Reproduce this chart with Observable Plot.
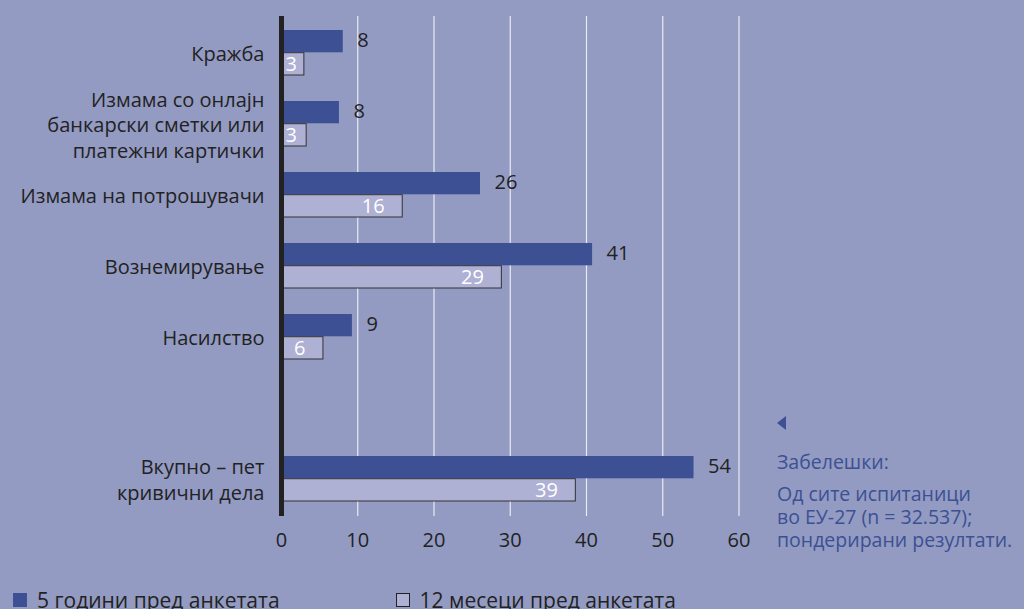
<!DOCTYPE html>
<html>
<head>
<meta charset="utf-8">
<script src="https://cdn.jsdelivr.net/npm/d3@7"></script>
<script src="https://cdn.jsdelivr.net/npm/@observablehq/plot@0.6"></script>
<style>
  html, body { margin: 0; padding: 0; background: #939bc2; width: 1024px; height: 609px; overflow: hidden; font-family: "Open Sans", sans-serif; }
  #wrap { position: relative; width: 1024px; height: 609px; }
  #chart { position: absolute; left: 0; top: 0; }
  .notes { position: absolute; left: 777px; top: 416px; color: #3c5093; font-size: 19.5px; line-height: 23px; white-space: nowrap; }
  .notes .tri { width: 0; height: 0; border-top: 7.5px solid transparent; border-bottom: 7.5px solid transparent; border-right: 9px solid #3c5093; margin-bottom: 20px; }
  .notes .title { margin-bottom: 9px; }
  .legend { position: absolute; top: 586px; left: 13px; font-size: 21px; color: #222; display: flex; white-space: nowrap; }
  .legend .item { display: flex; align-items: center; }
  .legend .sw { width: 14px; height: 14px; margin-right: 10px; box-sizing: border-box; }
</style>
</head>
<body>
<div id="wrap">
  <div id="chart"></div>
  <div class="notes">
    <div class="tri"></div>
    <div class="title">Забелешки:</div>
    <div>Од сите испитаници<br>во ЕУ-27 (n = 32.537);<br>пондерирани резултати.</div>
  </div>
  <div class="legend" id="legend"></div>
</div>
<script>
// ---- data ----
const categories = [
  "Кражба",
  "Измама со онлајн\nбанкарски сметки или\nплатежни картички",
  "Измама на потрошувачи",
  "Вознемирување",
  "Насилство",
  " ",
  "Вкупно – пет\nкривични дела"
];
const fiveYears = [8.1, 7.6, 26.1, 40.8, 9.3, null, 54.1];
const twelveMonths = [3.0, 3.3, 15.9, 28.9, 5.5, null, 38.6];
const seriesNames = ["5 години пред анкетата", "12 месеци пред анкетата"];
const xTicks = [0, 10, 20, 30, 40, 50, 60];
const gridTicks = [10, 20, 30, 40, 50, 60];

const colorDark = "#3c5093";
const colorLight = "#aeb0d4";

const rows = [];
categories.forEach((c, i) => {
  if (fiveYears[i] != null) rows.push({cat: c, series: seriesNames[0], value: fiveYears[i]});
  if (twelveMonths[i] != null) rows.push({cat: c, series: seriesNames[1], value: twelveMonths[i]});
});
const darkRows = rows.filter(d => d.series === seriesNames[0]);
const lightRows = rows.filter(d => d.series === seriesNames[1]);
const labelRows = categories.filter(c => c.trim() !== "").map(c => ({cat: c}));

const chart = Plot.plot({
  width: 1024,
  height: 565,
  marginLeft: 281,
  marginRight: 285.5,
  marginTop: 16,
  marginBottom: 49,
  style: {background: "transparent", fontFamily: "Open Sans, sans-serif", color: "#222"},
  x: {domain: [0, 60], label: null},
  y: {domain: categories, paddingInner: 0.365, paddingOuter: 0.1825, label: null, axis: null},
  marks: [
    Plot.gridX(gridTicks, {stroke: "#ffffff", strokeOpacity: 0.8, strokeWidth: 1.2}),
    Plot.axisX(xTicks, {tickSize: 0, tickPadding: 16, fontSize: 20, fill: "#222", label: null}),
    Plot.barX(darkRows, {x: "value", y: "cat", fill: colorDark, insetBottom: 22.7}),
    Plot.barX(lightRows, {x: "value", y: "cat", fill: colorLight, stroke: "#333", strokeWidth: 1, insetTop: 22.7}),
    Plot.text(darkRows, {x: "value", y: "cat", text: d => String(Math.round(d.value)), textAnchor: "start", dx: 14, dy: -12.5, fontSize: 20, fill: "#222"}),
    Plot.text(lightRows, {x: d => Math.max(d.value, 4.4), y: "cat", text: d => String(Math.round(d.value)), textAnchor: "end", dx: -18, dy: 11.5, fontSize: 20, fill: "#ffffff"}),
    Plot.text(labelRows, {x: 0, y: "cat", text: "cat", textAnchor: "end", dx: -17, fontSize: 20, lineHeight: 1.275, fill: "#222"}),
    Plot.ruleX([0], {stroke: "#222", strokeWidth: 5})
  ]
});
document.getElementById("chart").appendChild(chart);

// legend
const legend = document.getElementById("legend");
const legendColors = [[colorDark, colorDark], [colorLight, "#222"]];
seriesNames.forEach((name, i) => {
  const item = document.createElement("div");
  item.className = "item";
  item.style.marginRight = i === 0 ? "116px" : "0";
  const sw = document.createElement("div");
  sw.className = "sw";
  sw.style.background = legendColors[i][0];
  sw.style.border = "1px solid " + legendColors[i][1];
  const t = document.createElement("span");
  t.textContent = name;
  item.appendChild(sw);
  item.appendChild(t);
  legend.appendChild(item);
});
</script>
</body>
</html>
